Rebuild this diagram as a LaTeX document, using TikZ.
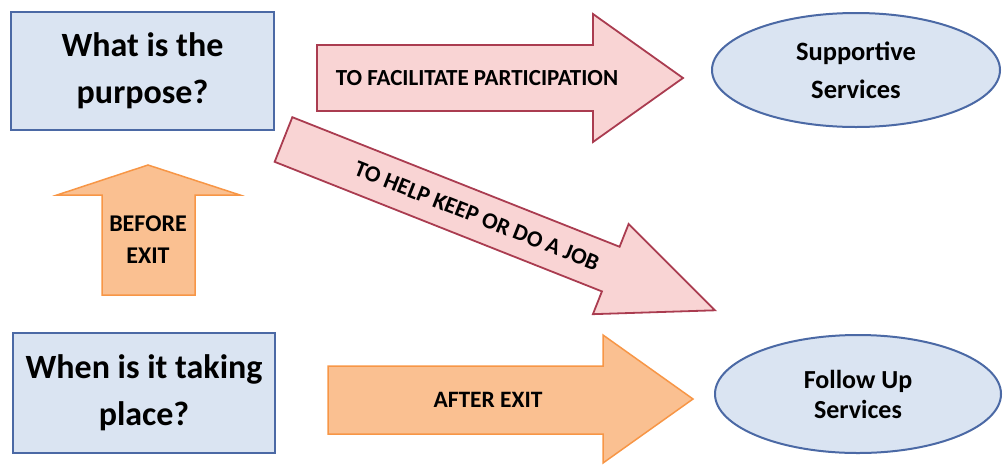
\documentclass[tikz,border=0pt]{standalone}
\usepackage{fontspec}
\setmainfont{Carlito}
\usetikzlibrary{shapes.geometric}
\definecolor{boxfill}{RGB}{218,228,242}
\definecolor{boxline}{RGB}{75,105,165}
\definecolor{pinkfill}{RGB}{249,212,212}
\definecolor{pinkline}{RGB}{170,60,80}
\definecolor{orangefill}{RGB}{250,192,145}
\definecolor{orangeline}{RGB}{247,150,70}
\begin{document}
\begin{tikzpicture}[
    x=1pt, y=-1pt,
    question/.style={
        rectangle,
        draw=boxline,
        fill=boxfill,
        line width=2.2pt,
        align=center,
        font=\fontsize{34}{47}\selectfont\bfseries
    },
    service/.style={
        ellipse,
        draw=boxline,
        fill=boxfill,
        line width=2pt,
        align=center,
        inner sep=0pt
    },
    pinkarrow/.style={draw=pinkline, fill=pinkfill, line width=1.8pt, line join=miter},
    orangearrow/.style={draw=orangeline, fill=orangefill, line width=1.5pt, line join=miter},
    label/.style={align=center, inner sep=0pt, font=\fontsize{23}{28}\selectfont\bfseries}
]
\useasboundingbox (0,0) rectangle (1003,464);

% left questions
\node[question, minimum width=263pt, minimum height=118pt] (purpose) at (142.5,71) {What is the\\purpose?};
\node[question, minimum width=262pt, minimum height=120pt] (when) at (144,393) {When is it taking\\place?};

% services
\node[service, minimum width=288pt, minimum height=114pt, font=\fontsize{26.5}{38}\selectfont\bfseries] (supportive) at (856,70) {Supportive\\Services};
\node[service, minimum width=286pt, minimum height=118pt, font=\fontsize{26}{30}\selectfont\bfseries] (followup) at (858,394) {Follow Up\\Services};

% block arrows
\draw[pinkarrow] (317,45) -- (593,45) -- (593,14) -- (683,78) -- (593,142) -- (593,111) -- (317,111) -- cycle;
\node[label] (facilitate) at (477,78) {TO FACILITATE PARTICIPATION};

\begin{scope}[shift={(283.5,139.5)}, rotate=-21.6]
    \draw[pinkarrow] (0,-24) -- (352,-24) -- (352,-48.5) -- (464,0) -- (352,48.5) -- (352,24) -- (0,24) -- cycle;
    \node[label, rotate=-21.6] (job) at (208,0) {TO HELP KEEP OR DO A JOB};
\end{scope}

\draw[orangearrow] (102,295) -- (102,195) -- (57,195) -- (148,165) -- (240,195) -- (195,195) -- (195,295) -- cycle;
\node[label, font=\fontsize{24}{32}\selectfont\bfseries] (before) at (148,240) {BEFORE\\EXIT};

\draw[orangearrow] (328,366) -- (603,366) -- (603,335) -- (693,399) -- (603,463) -- (603,434) -- (328,434) -- cycle;
\node[label, font=\fontsize{23.5}{28}\selectfont\bfseries] (after) at (488,400) {AFTER EXIT};

\end{tikzpicture}
\end{document}
